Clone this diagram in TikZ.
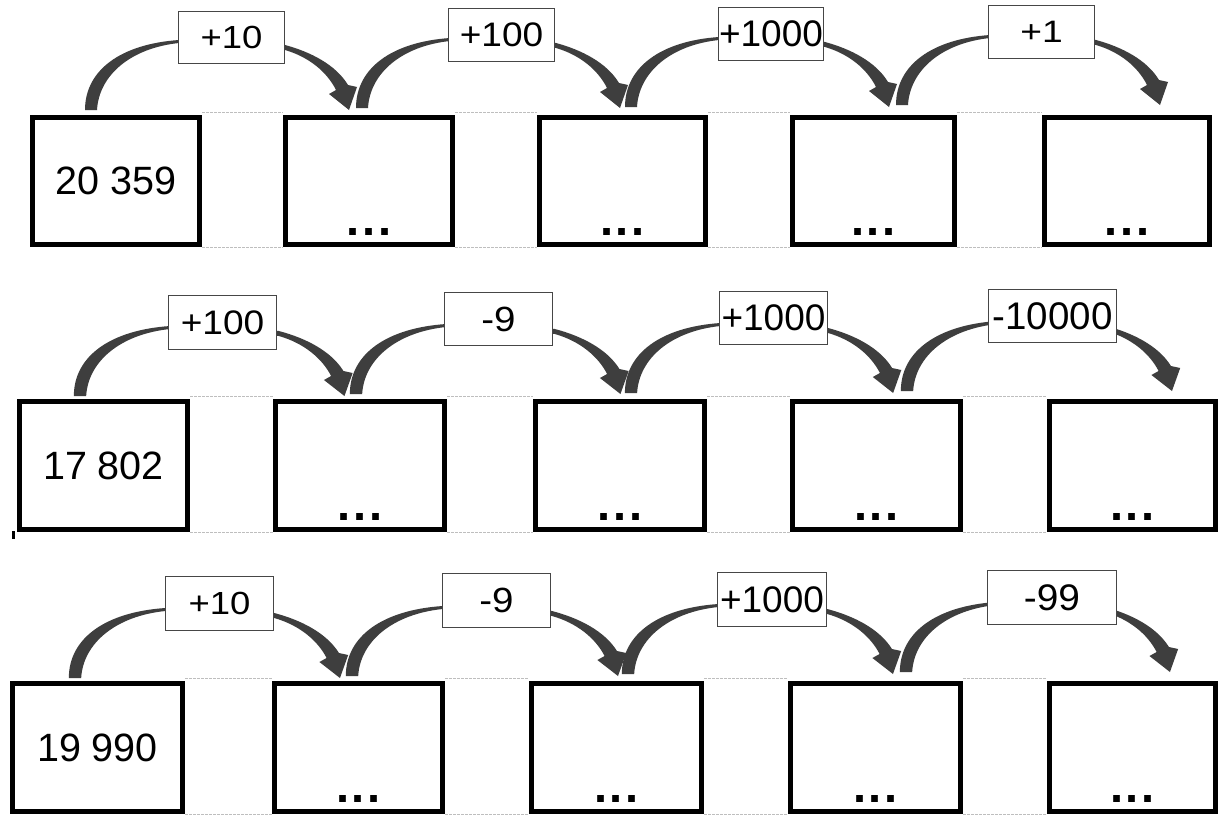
\documentclass[tikz,border=0pt]{standalone}
\usepackage{fontspec}
\setmainfont{Liberation Sans}
\usepackage{graphicx}
\usetikzlibrary{calc}
\definecolor{arrowgray}{RGB}{62,62,62}
\definecolor{lblgray}{RGB}{70,70,70}
\definecolor{faintgray}{RGB}{190,190,190}

% curved tapered jump arrow; #1 = start coordinate, #2 = horizontal scale
\newcommand\jumparrow[2]{%
  \begin{scope}[shift={(#1)}, xscale=#2]
    \fill[arrowgray] (-6,0) .. controls (-6,-40) and (30,-66) .. (88,-70)
      -- (194,-65) .. controls (220,-58) and (245,-45) .. (257,-25)
      -- (266,-23) -- (258,0) -- (238,-16) -- (245,-20)
      .. controls (236,-38) and (218,-53) .. (194,-60)
      -- (88,-67) .. controls (40,-62) and (8,-35) .. (6,0) -- cycle;
  \end{scope}}
\newcommand\optext[3]{\fontsize{#1}{#1}\selectfont\scalebox{#2}[1]{#3}}
\newcommand\threedots{.\kern2.8pt.\kern2.8pt.}

\tikzset{
  numbox/.style={draw=black, line width=5pt, inner sep=0pt,
    font=\fontsize{39.5}{40}\selectfont},
  opbox/.style={draw=lblgray, fill=white, line width=1.3pt, inner sep=0pt},
  dotstext/.style={font=\fontsize{47}{48}\selectfont\bfseries, inner sep=0pt, anchor=base},
  faint/.style={draw=faintgray, line width=0.9pt, dash pattern=on 3pt off 1pt},
}

\begin{document}
\begin{tikzpicture}[x=1pt,y=-1pt]
\useasboundingbox[fill=white] (0,0) rectangle (1220,816);

% ---- row 1 boxes
\node[numbox, minimum width=167pt, minimum height=127pt] (b11) at (116,181) {20 359};
\node[numbox, minimum width=167pt, minimum height=127pt] (b12) at (369,181) {};
\node[numbox, minimum width=166pt, minimum height=127pt] (b13) at (622.5,181) {};
\node[numbox, minimum width=162pt, minimum height=127pt] (b14) at (873.5,181) {};
\node[numbox, minimum width=165pt, minimum height=127pt] (b15) at (1127,181) {};
% ---- row 2 boxes
\node[numbox, minimum width=168pt, minimum height=128pt] (b21) at (103.5,465.5) {17 802};
\node[numbox, minimum width=169pt, minimum height=128pt] (b22) at (360,465.5) {};
\node[numbox, minimum width=169pt, minimum height=128pt] (b23) at (620,465.5) {};
\node[numbox, minimum width=168pt, minimum height=128pt] (b24) at (876.5,465.5) {};
\node[numbox, minimum width=166pt, minimum height=128pt] (b25) at (1132.5,465.5) {};
% ---- row 3 boxes
\node[numbox, minimum width=170pt, minimum height=128pt] (b31) at (97.5,747.5) {19 990};
\node[numbox, minimum width=168pt, minimum height=128pt] (b32) at (358.5,747.5) {};
\node[numbox, minimum width=170pt, minimum height=128pt] (b33) at (616.5,747.5) {};
\node[numbox, minimum width=170pt, minimum height=128pt] (b34) at (875.5,747.5) {};
\node[numbox, minimum width=166pt, minimum height=128pt] (b35) at (1132.5,747.5) {};

% small stray mark under the first box of row 2
\draw[line width=3pt] ([xshift=-3.5pt,yshift=1pt]b21.south west) -- ++(0,8);

% ---- dots
\foreach \r in {1,2,3}{
  \foreach \c in {2,3,4,5}{
    \node[dotstext] (d\r\c) at ([yshift=11.5pt]b\r\c.south) {\threedots};
  }
}

% ---- faint dashed guide lines between boxes
\foreach \r in {1,2,3}{
  \foreach \a/\b in {1/2,2/3,3/4,4/5}{
    \draw[faint] ([yshift=2.5pt]b\r\a.north east) -- ([yshift=2.5pt]b\r\b.north west);
    \draw[faint] (b\r\a.south east) -- (b\r\b.south west);
  }
}

% ---- arrow start coordinates
\coordinate (s11) at (91,110);
\coordinate (s12) at (362,108);
\coordinate (s13) at (631,107);
\coordinate (s14) at (902,105);
\coordinate (s21) at (80,396);
\coordinate (s22) at (356,394);
\coordinate (s23) at (631,393);
\coordinate (s24) at (907,391);
\coordinate (s31) at (75,678);
\coordinate (s32) at (352,676);
\coordinate (s33) at (628,674);
\coordinate (s34) at (906,672);

\jumparrow{s11}{1.0}
\jumparrow{s12}{1.0}
\jumparrow{s13}{1.0}
\jumparrow{s14}{1.0}
\jumparrow{s21}{1.025}
\jumparrow{s22}{1.025}
\jumparrow{s23}{1.016}
\jumparrow{s24}{1.027}
\jumparrow{s31}{1.027}
\jumparrow{s32}{1.031}
\jumparrow{s33}{1.027}
\jumparrow{s34}{1.023}

% ---- operation labels
\node[opbox, minimum width=106pt, minimum height=52pt] (l11) at (231.5,37.5) {\optext{32}{1.14}{+10}};
\node[opbox, minimum width=106pt, minimum height=53pt] (l12) at (501.5,35) {\optext{34}{1.09}{+100}};
\node[opbox, minimum width=105pt, minimum height=53pt] (l13) at (771,34) {\optext{37}{1.0}{+1000}};
\node[opbox, minimum width=106pt, minimum height=53pt] (l14) at (1041.5,32) {\optext{31}{1.2}{+1}};

\node[opbox, minimum width=108pt, minimum height=54pt] (l21) at (222.5,322.5) {\optext{34}{1.09}{+100}};
\node[opbox, minimum width=108pt, minimum height=53pt] (l22) at (498.5,319) {\optext{35}{1.1}{-9}};
\node[opbox, minimum width=108pt, minimum height=53pt] (l23) at (773.5,318) {\optext{37}{1.0}{+1000}};
\node[opbox, minimum width=128pt, minimum height=53pt] (l24) at (1052.5,316) {\optext{38.5}{1.0}{-10000}};

\node[opbox, minimum width=108pt, minimum height=54pt] (l31) at (219.5,603.5) {\optext{32}{1.14}{+10}};
\node[opbox, minimum width=108pt, minimum height=54pt] (l32) at (496.5,600.5) {\optext{35}{1.1}{-9}};
\node[opbox, minimum width=109pt, minimum height=54pt] (l33) at (772,599.5) {\optext{37}{1.0}{+1000}};
\node[opbox, minimum width=129pt, minimum height=54pt] (l34) at (1052,597.5) {\optext{37}{1.05}{-99}};
\end{tikzpicture}
\end{document}
